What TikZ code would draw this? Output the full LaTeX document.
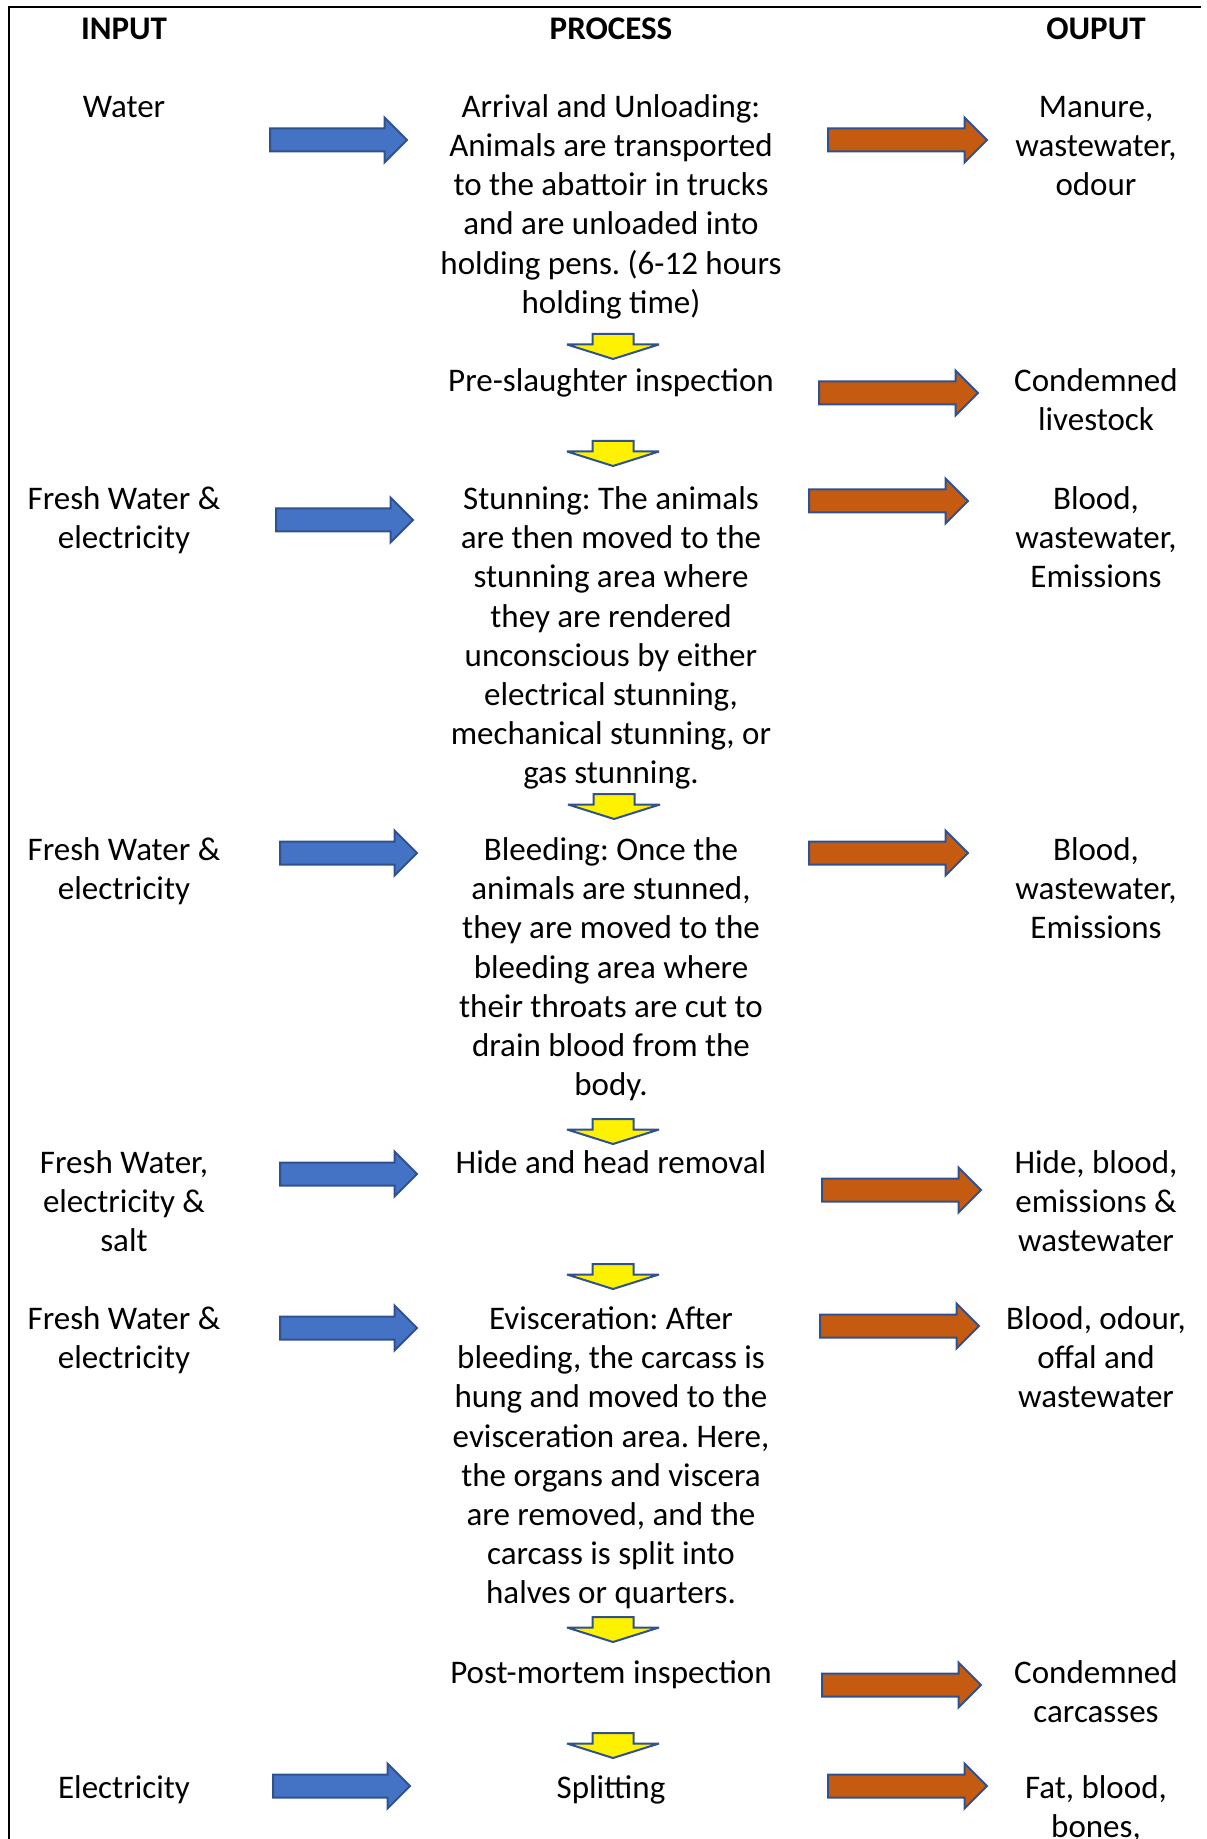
\documentclass[tikz,border=0pt]{standalone}
\usepackage{fontspec}
\setmainfont{Carlito}
\usetikzlibrary{shapes.arrows}
\definecolor{inblue}{HTML}{4472C4}
\definecolor{outorange}{HTML}{C55A11}
\definecolor{rimblue}{HTML}{2F528F}
\frenchspacing

\begin{document}
\begin{tikzpicture}[x=0.5pt, y=-0.5pt,
    % text is placed by the baseline of its first line (\strut = 0.7\baselineskip)
    txt/.style={align=center, anchor=north, yshift=13.72pt, inner sep=0pt, font=\fontsize{16.5}{19.6}\selectfont},
    hdr/.style={txt, font=\fontsize{16.5}{19.6}\selectfont\bfseries},
    blk/.style={single arrow, draw=rimblue, line width=1pt, miter limit=3, inner xsep=0pt,
        single arrow head indent=0pt, anchor=tail},
    inarr/.style={blk, fill=inblue, inner ysep=5.25pt, single arrow head extend=5.5pt, minimum height=68.5pt},
    outarr/.style={blk, fill=outorange, inner ysep=5.25pt, single arrow head extend=5.5pt, minimum height=79.5pt},
    downarr/.style={blk, fill=yellow, rotate=-90, inner ysep=9.75pt, single arrow head extend=12.75pt,
        single arrow tip angle=145, minimum height=12.5pt}]
    \useasboundingbox (0,0) rectangle (1206,1839);
    \draw[line width=1pt] (9,1839) -- (9,7.5) -- (1201,7.5);

    % headings
    \node[hdr] (hin)  at (124,39)  {\strut INPUT};
    \node[hdr] (hpro) at (611,39)  {\strut PROCESS};
    \node[hdr] (hout) at (1096,39) {\strut OUPUT};

    % process column
    \node[txt] (p1) at (611,117)  {\strut Arrival and Unloading:\\Animals are transported\\to the abattoir in trucks\\and are unloaded into\\holding pens. (6-12 hours\\holding time)};
    \node[txt] (p2) at (611,391)  {\strut Pre-slaughter inspection};
    \node[txt] (p3) at (611,509)  {\strut Stunning: The animals\\are then moved to the\\stunning area where\\they are rendered\\unconscious by either\\electrical stunning,\\mechanical stunning, or\\gas stunning.};
    \node[txt] (p4) at (611,860)  {\strut Bleeding: Once the\\animals are stunned,\\they are moved to the\\bleeding area where\\their throats are cut to\\drain blood from the\\body.};
    \node[txt] (p5) at (611,1173) {\strut Hide and head removal};
    \node[txt] (p6) at (611,1329) {\strut Evisceration: After\\bleeding, the carcass is\\hung and moved to the\\evisceration area. Here,\\the organs and viscera\\are removed, and the\\carcass is split into\\halves or quarters.};
    \node[txt] (p7) at (611,1683) {\strut Post-mortem inspection};
    \node[txt] (p8) at (611,1798) {\strut Splitting};

    % inputs
    \node[txt] (in1) at (124,117)  {\strut Water};
    \node[txt] (in3) at (124,509)  {\strut Fresh Water \&\\electricity};
    \node[txt] (in4) at (124,860)  {\strut Fresh Water \&\\electricity};
    \node[txt] (in5) at (124,1173) {\strut Fresh Water,\\electricity \&\\salt};
    \node[txt] (in6) at (124,1329) {\strut Fresh Water \&\\electricity};
    \node[txt] (in8) at (124,1798) {\strut Electricity};

    % outputs
    \node[txt] (out1) at (1096,117)  {\strut Manure,\\wastewater,\\odour};
    \node[txt] (out2) at (1096,391)  {\strut Condemned\\livestock};
    \node[txt] (out3) at (1096,509)  {\strut Blood,\\wastewater,\\Emissions};
    \node[txt] (out4) at (1096,860)  {\strut Blood,\\wastewater,\\Emissions};
    \node[txt] (out5) at (1096,1173) {\strut Hide, blood,\\emissions \&\\wastewater};
    \node[txt] (out6) at (1096,1329) {\strut Blood, odour,\\offal and\\wastewater};
    \node[txt] (out7) at (1096,1683) {\strut Condemned\\carcasses};
    \node[txt] (out8) at (1096,1798) {\strut Fat, blood,\\bones,};

    % input arrows
    \node[inarr] (a1) at (269,140)  {};
    \node[inarr] (a3) at (275,520)  {};
    \node[inarr] (a4) at (279,853)  {};
    \node[inarr] (a5) at (279,1174) {};
    \node[inarr] (a6) at (279,1328) {};
    \node[inarr] (a8) at (272,1786) {};

    % output arrows
    \node[outarr] (b1) at (827,140)  {};
    \node[outarr] (b2) at (818,393)  {};
    \node[outarr] (b3) at (808,501)  {};
    \node[outarr] (b4) at (808,853)  {};
    \node[outarr] (b5) at (821,1190) {};
    \node[outarr] (b6) at (819,1326) {};
    \node[outarr] (b7) at (821,1685) {};
    \node[outarr] (b8) at (827,1786) {};

    % step arrows
    \node[downarr] (d1) at (613,333)  {};
    \node[downarr] (d2) at (613,440)  {};
    \node[downarr] (d3) at (614,793)  {};
    \node[downarr] (d4) at (613,1118) {};
    \node[downarr] (d5) at (613,1263) {};
    \node[downarr] (d6) at (613,1616) {};
    \node[downarr] (d7) at (613,1732) {};
\end{tikzpicture}
\end{document}
